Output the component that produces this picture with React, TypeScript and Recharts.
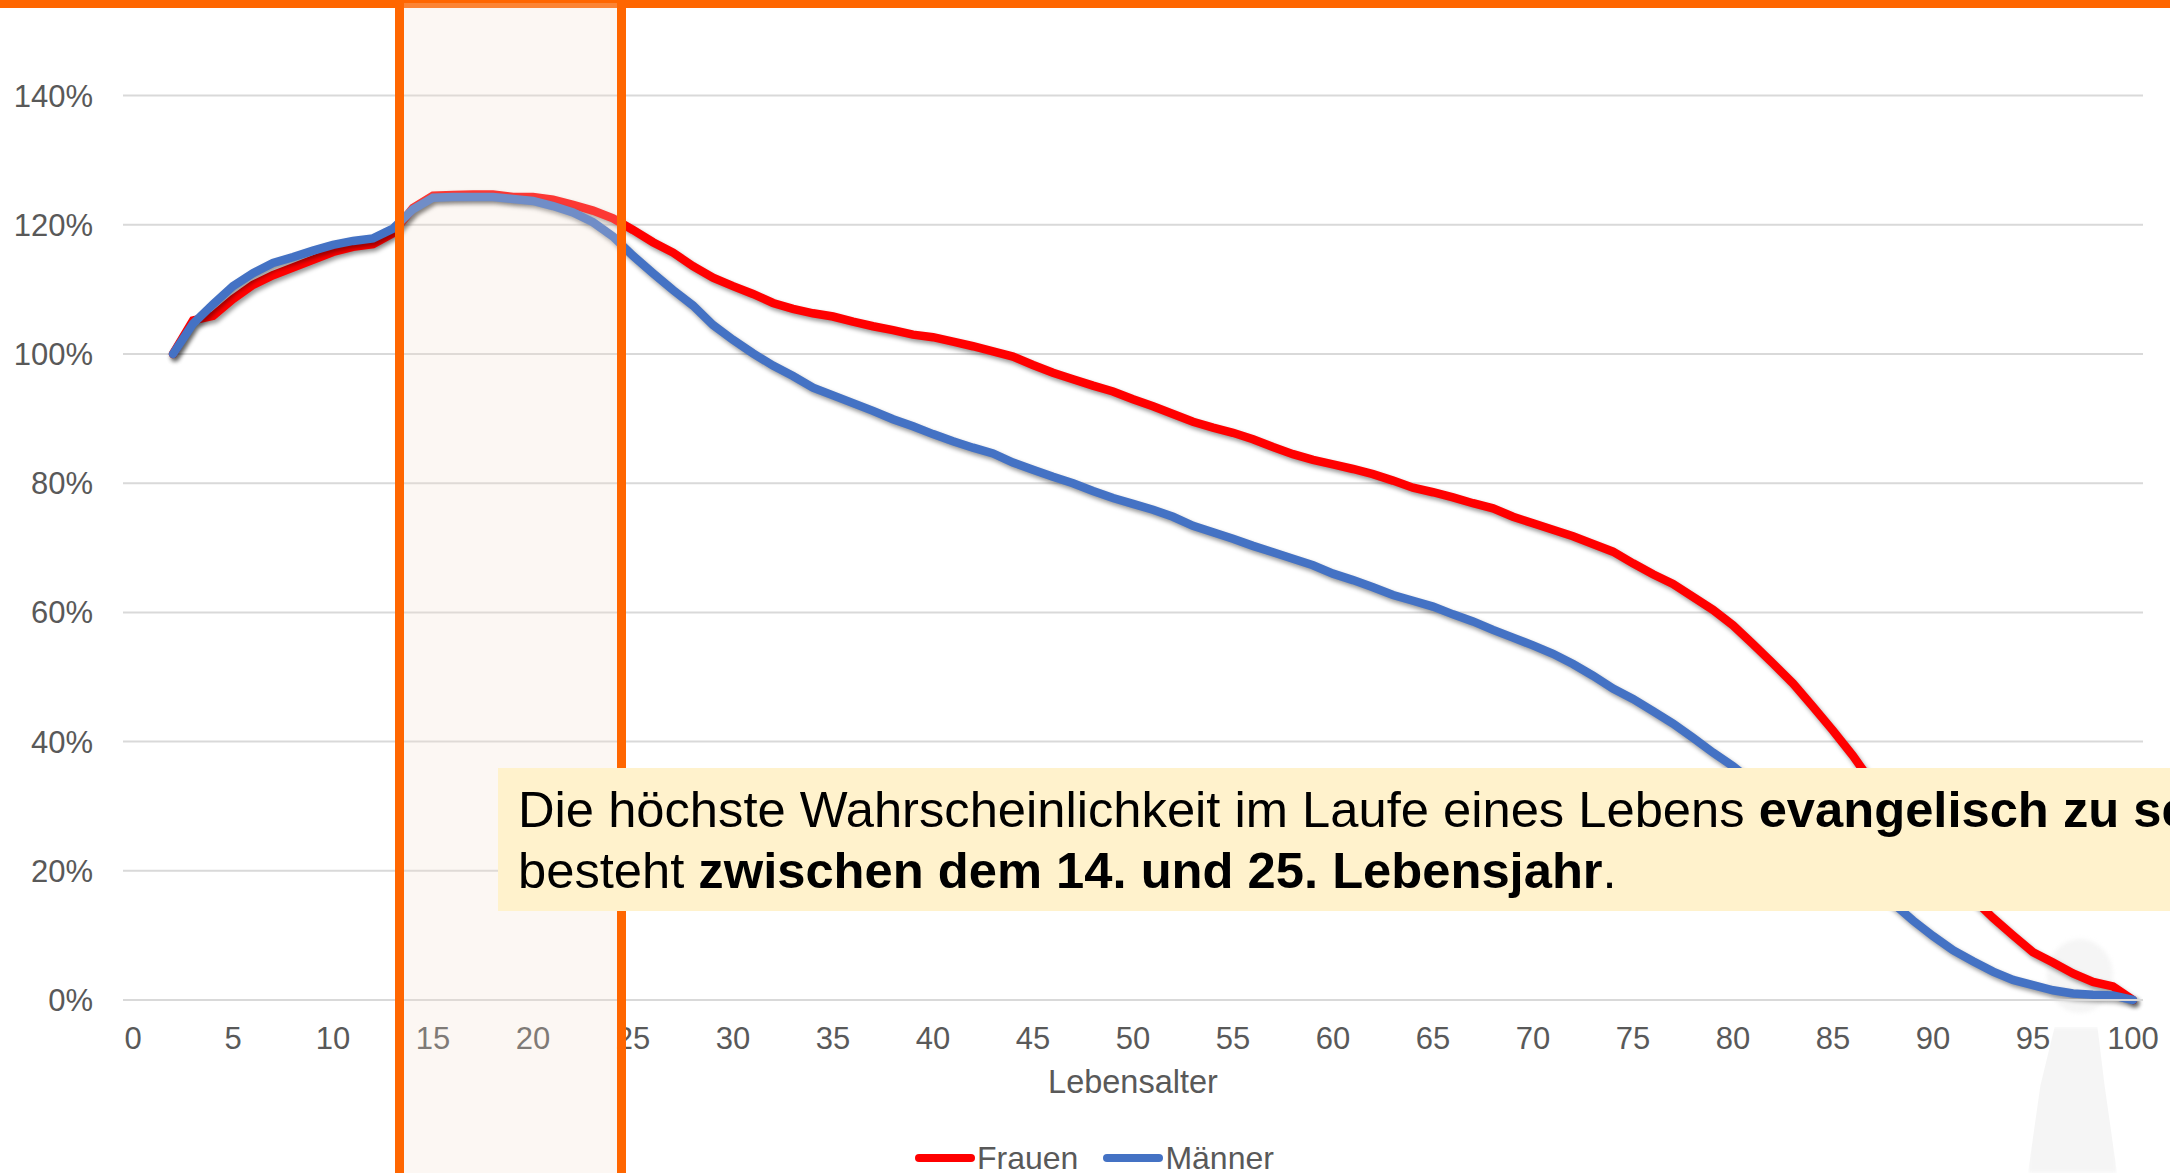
import React from 'react';
import { LineChart, Line, XAxis, YAxis, CartesianGrid, Legend } from 'recharts';

const ages = [
  0, 1, 2, 3, 4, 5, 6, 7, 8, 9, 10, 11, 12, 13, 14, 15, 16, 17, 18, 19, 20,
  21, 22, 23, 24, 25, 26, 27, 28, 29, 30, 31, 32, 33, 34, 35, 36, 37, 38, 39, 40,
  41, 42, 43, 44, 45, 46, 47, 48, 49, 50, 51, 52, 53, 54, 55, 56, 57, 58, 59, 60,
  61, 62, 63, 64, 65, 66, 67, 68, 69, 70, 71, 72, 73, 74, 75, 76, 77, 78, 79, 80,
  81, 82, 83, 84, 85, 86, 87, 88, 89, 90, 91, 92, 93, 94, 95, 96, 97, 98, 99, 100,
];

// Values start at age 2, nothing is plotted for 0 and 1
const frauen = [
  100, 105.2, 105.9, 108.5, 110.7, 112.2, 113.4, 114.6, 115.8, 116.6, 117, 118.7, 122.6, 124.5,
  124.6, 124.7, 124.7, 124.3, 124.3, 123.9, 123.1, 122.2, 121, 119.2, 117.3, 115.7, 113.6, 111.8,
  110.5, 109.3, 107.9, 107, 106.3, 105.8, 105, 104.3, 103.7, 103, 102.6, 101.9, 101.2, 100.4,
  99.6, 98.3, 97.1, 96.1, 95.1, 94.2, 93, 91.9, 90.7, 89.5, 88.6, 87.8, 86.8, 85.6, 84.5, 83.6,
  82.9, 82.2, 81.4, 80.4, 79.3, 78.6, 77.8, 76.9, 76.1, 74.8, 73.8, 72.8, 71.8, 70.6, 69.4, 67.6,
  65.9, 64.4, 62.4, 60.4, 58, 55.1, 52.1, 49, 45.4, 41.7, 37.8, 33.4, 29.6, 26, 22.5, 19, 15.7,
  12.7, 10, 7.4, 5.8, 4.1, 2.8, 2.1, 0,
];

const maenner = [
  100, 104.7, 107.7, 110.5, 112.5, 114.1, 115, 116, 116.9, 117.5, 117.9, 119.4, 122.4, 124.2,
  124.3, 124.3, 124.3, 124, 123.7, 122.9, 121.9, 120.4, 118.2, 115.2, 112.5, 109.9, 107.5, 104.5,
  102.2, 100.1, 98.2, 96.6, 94.8, 93.6, 92.4, 91.2, 89.9, 88.8, 87.6, 86.5, 85.5, 84.6, 83.2,
  82.1, 81, 80, 78.8, 77.7, 76.8, 75.9, 74.8, 73.4, 72.4, 71.4, 70.3, 69.3, 68.3, 67.3, 66, 65,
  63.9, 62.7, 61.8, 60.9, 59.7, 58.6, 57.3, 56.1, 54.9, 53.6, 52, 50.2, 48.2, 46.6, 44.7, 42.8,
  40.6, 38.3, 36.2, 33.7, 31, 28.3, 25.7, 23, 20.4, 17.8, 15, 12.3, 9.9, 7.7, 6, 4.4, 3.1, 2.3,
  1.5, 1, 0.8, 0.7, 0,
];

const yTicks = [0, 20, 40, 60, 80, 100, 120, 140];

const chartData = ages.map((age, i) => ({
  age,
  Frauen: i < 2 ? null : frauen[i - 2],
  Männer: i < 2 ? null : maenner[i - 2],
}));

const FONT = '"Liberation Sans", Arial, sans-serif';
const TEXT_GREY = '#595959';
const ORANGE = '#FF6600';

const renderLegend = ({ payload }: any) => (
  <div style={{ display: 'flex', alignItems: 'center', height: 30 }}>
    {(payload || []).map((entry: any) => (
      <div key={entry.value} style={{ display: 'flex', alignItems: 'center', marginRight: 25 }}>
        <div style={{ width: 60, height: 8, borderRadius: 4, backgroundColor: entry.color, marginRight: 2 }} />
        <span style={{ fontFamily: FONT, fontSize: 32, lineHeight: '30px', color: TEXT_GREY }}>{entry.value}</span>
      </div>
    ))}
  </div>
);

export default function App() {
  return (
    <div style={{ position: 'absolute', left: 0, top: 0, width: 2170, height: 1173, overflow: 'hidden', background: '#fff' }}>
      <style>{`.recharts-line-curve { filter: drop-shadow(2px 3px 2px rgba(0,0,0,0.4)); }`}</style>

      {/* faint figure behind the chart */}
      <div style={{ position: 'absolute', left: 2047, top: 939, width: 66, height: 74, borderRadius: '50%', background: '#F5F5F5', filter: 'blur(2px)' }} />
      <div style={{ position: 'absolute', left: 2028, top: 1027, width: 89, height: 146, background: '#F5F5F5', filter: 'blur(2px)', clipPath: 'polygon(30% 0, 78% 0, 86% 40%, 100% 100%, 0 100%, 14% 40%)' }} />

      <div style={{ position: 'absolute', left: 0, top: 0 }}>
        <LineChart width={2170} height={1173} data={chartData} margin={{ top: 31, right: 27, left: 0, bottom: 0 }}>
          <CartesianGrid vertical={false} stroke="#D9D9D9" strokeWidth={2} syncWithTicks />
          <XAxis
            dataKey="age"
            height={143}
            interval={4}
            padding={{ left: 10, right: 10 }}
            tickLine={false}
            axisLine={{ stroke: '#D9D9D9', strokeWidth: 2 }}
            tickMargin={21}
            tick={{ fontFamily: FONT, fontSize: 31, fill: TEXT_GREY }}
            label={{ value: 'Lebensalter', position: 'insideTop', offset: 70, fontFamily: FONT, fontSize: 32.5, fill: TEXT_GREY }}
          />
          <YAxis
            width={123}
            domain={[0, 150]}
            ticks={yTicks}
            tickFormatter={(val) => `${val}%`}
            tickLine={false}
            axisLine={false}
            tickMargin={24}
            tick={{ fontFamily: FONT, fontSize: 31, fill: TEXT_GREY }}
          />
          <Legend content={renderLegend} verticalAlign="bottom" wrapperStyle={{ left: 915, width: 500 }} />
          <Line dataKey="Frauen" stroke="#FF0000" strokeWidth={8.5} dot={false} strokeLinecap="round" isAnimationActive={false} />
          <Line dataKey="Männer" stroke="#4472C4" strokeWidth={8.5} dot={false} strokeLinecap="round" isAnimationActive={false} />
        </LineChart>
      </div>

      {/* slide overlays */}
      <div style={{ position: 'absolute', left: 0, top: 0, width: 2170, height: 8, background: ORANGE }} />
      <div style={{ position: 'absolute', left: 404, top: 3, width: 213, bottom: 0, background: 'rgba(243,223,207,0.25)' }} />
      <div style={{ position: 'absolute', left: 395, top: 0, width: 9, bottom: 0, background: ORANGE }} />
      <div style={{ position: 'absolute', left: 617, top: 0, width: 9, bottom: 0, background: ORANGE }} />
      <div
        style={{
          position: 'absolute', left: 498, top: 768, width: 1672, height: 143, background: '#FFF2CC', overflow: 'hidden',
          fontFamily: FONT, fontSize: 50.7, lineHeight: '61px', color: '#000', whiteSpace: 'nowrap',
          padding: '11px 0 0 20px', boxSizing: 'border-box',
        }}
      >
        Die höchste Wahrscheinlichkeit im Laufe eines Lebens <b>evangelisch zu sein</b>
        <br />
        besteht <b>zwischen dem 14. und 25. Lebensjahr</b>.
      </div>
    </div>
  );
}
